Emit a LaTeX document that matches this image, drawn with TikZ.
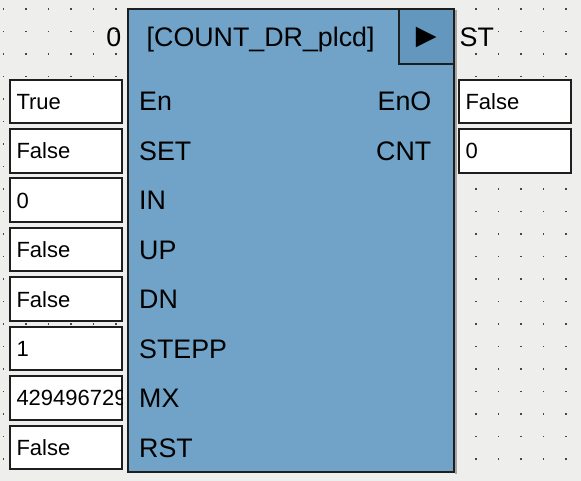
\documentclass[tikz,border=0pt]{standalone}
\usepackage{fontspec}
\setmainfont{Liberation Sans}
\newfontfamily\symfont{DejaVu Sans}
\definecolor{bgc}{RGB}{238,238,236}
\definecolor{dotc}{RGB}{70,70,70}
\definecolor{blockc}{RGB}{112,163,199}
\definecolor{btnc}{RGB}{99,151,190}
\definecolor{linec}{RGB}{30,30,30}
\tikzset{
  blockbox/.style={draw=linec, line width=2pt, fill=blockc, inner sep=0pt, rectangle},
  btnbox/.style={draw=linec, line width=2pt, fill=btnc, inner sep=0pt, rectangle},
  valbox/.style={draw=linec, line width=2pt, fill=white, inner sep=0pt, rectangle, minimum width=112pt, minimum height=43.5pt},
  valtext/.style={font=\fontsize{22}{26}\selectfont, inner sep=0pt, text height=15.75pt, text depth=0pt, anchor=west},
  porttext/.style={font=\fontsize{26.8}{31}\selectfont, inner sep=0pt, text height=19pt, text depth=0pt},
}
\begin{document}
\begin{tikzpicture}[x=1pt,y=-1pt]
\fill[bgc] (0,0) rectangle (581,481);
\useasboundingbox (0,0) rectangle (581,481);
\foreach \i in {0,...,25}{\foreach \j in {0,...,21}{
  \fill[dotc] ({3.3+22.5*\i-0.7},{9+22.5*\j-0.7}) rectangle ++(1.4,1.4);}}
% block
\fill[black!35] (455,10) rectangle (456.5,474);
\node[blockbox, minimum width=326.3pt, minimum height=462.4pt] (block) at (290.85,240.5) {};
\node[btnbox, minimum width=55.3pt, minimum height=55pt] (btn) at (426.35,36.8) {};
\node[inner sep=0pt, font=\symfont\fontsize{27}{32}\selectfont] (play) at (426.3,37.5) {▶};
\node[porttext, anchor=west] (title) at (146.5,37) {[COUNT\_DR\_plcd]};
\node[porttext, anchor=east] (zero) at (121.5,37) {0};
\node[porttext, anchor=west] (st) at (459.5,37) {ST};
% inputs
\foreach \n/\lab/\val [count=\k from 0] in {en/En/True, set/SET/False, in/IN/0, up/UP/False, dn/DN/False, stepp/STEPP/1, mx/MX/4294967295, rst/RST/False}{
  \node[valbox] (v\n) at (66.3,{101.3+49.46*\k}) {};
  \begin{scope}
    \clip ([xshift=1pt,yshift=-1pt]v\n.north west) rectangle ([xshift=-1pt,yshift=1pt]v\n.south east);
    \node[valtext] (t\n) at ([xshift=7pt]v\n.west) {\val};
  \end{scope}
  \node[porttext, anchor=west] (p\n) at (139,{101.3+49.46*\k}) {\lab};
}
% outputs
\foreach \n/\lab/\val [count=\k from 0] in {eno/EnO/False, cnt/CNT/0}{
  \node[valbox, minimum width=111.4pt] (v\n) at (515,{101.3+49.46*\k}) {};
  \node[valtext] (t\n) at ([xshift=7pt]v\n.west) {\val};
  \node[porttext, anchor=east] (p\n) at (431.5,{101.3+49.46*\k}) {\lab};
}
\end{tikzpicture}
\end{document}
